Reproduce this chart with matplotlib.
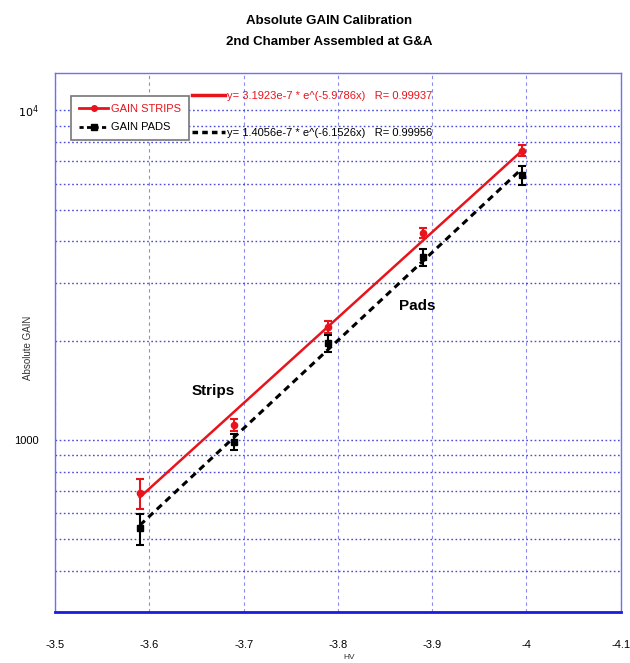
"""Absolute GAIN calibration plot, 2nd chamber assembled at G&A."""

import matplotlib
matplotlib.use("Agg")

import matplotlib.pyplot as plt
from matplotlib.lines import Line2D
import numpy as np

# HV setting (kV) and measured gain
hv = [-3.59, -3.69, -3.79, -3.89, -3.995]
gain_strips = [688, 1111, 2200, 4236, 7550]
err_strips = [70, 45, 90, 150, 300]
gain_pads = [538, 986, 1966, 3577, 6368]
err_pads = [58, 55, 120, 215, 410]

# exponential trendline coefficients shown on the chart: y = a * e^(b x)
fit_strips = (3.1923e-7, -5.9786, 0.99937)
fit_pads = (1.4056e-7, -6.1526, 0.99956)

x_ticks = [-3.5, -3.6, -3.7, -3.8, -3.9, -4.0, -4.1]
x_ticklabels = ["-3.5", "-3.6", "-3.7", "-3.8", "-3.9", "-4", "-4.1"]
y_ticks = [1000, 10000]
y_ticklabels = ["1000", "$10^4$"]

RED = "#e8141c"
GRID = "#2b2bd6"

plt.rcParams["font.family"] = ["Liberation Sans Narrow", "Liberation Sans", "DejaVu Sans"]

fig = plt.figure(figsize=(6.3, 6.63), dpi=100)
ax = fig.add_axes([0.0873, 0.077, 0.898, 0.813])

ax.set_yscale("log")
ax.set_xlim(-3.5, -4.1)
ax.set_ylim(300, 13000)

# trendlines (straight on log axis, so the end points are enough)
x_fit = np.array([hv[0], hv[-1]])
ax.plot(x_fit, fit_strips[0] * np.exp(fit_strips[1] * x_fit), color=RED, lw=1.8, zorder=3)
ax.plot(x_fit, fit_pads[0] * np.exp(fit_pads[1] * x_fit), color="black", lw=2.2,
        ls=(0, (2.2, 1.6)), zorder=3)

ax.errorbar(hv, gain_strips, yerr=err_strips, fmt="o", color=RED, ms=4.5,
            capsize=3, elinewidth=1.5, capthick=1.5, zorder=4)
ax.errorbar(hv, gain_pads, yerr=err_pads, fmt="s", color="black", ms=4.5,
            capsize=3, elinewidth=1.5, capthick=1.5, zorder=4)

# grid
ax.set_yticks(y_ticks)
ax.set_yticklabels(y_ticklabels)
ax.grid(True, which="both", axis="y", color=GRID, ls=(0, (1.2, 1.8)), lw=1.0, alpha=0.85)
ax.grid(True, which="major", axis="x", color="#8a8aec", ls=(0, (3, 3)), lw=0.8)
ax.set_xticks(x_ticks)
ax.set_xticklabels(x_ticklabels)
ax.tick_params(axis="both", which="both", length=0, labelsize=8, pad=12)
ax.tick_params(axis="y", which="minor", labelleft=False)
ax.tick_params(axis="x", pad=20)
for side in ["left", "right", "top"]:
    ax.spines[side].set_color("#6f6ff0")
    ax.spines[side].set_linewidth(1.0)
ax.spines["bottom"].set_color("#1a1ae0")
ax.spines["bottom"].set_linewidth(2.0)

ax.set_ylabel("Absolute GAIN", fontsize=7, color="#333333")
ax.yaxis.set_label_coords(-0.039, 0.49)
ax.set_xlabel("HV", fontsize=6, color="#333333")
ax.xaxis.set_label_coords(0.52, -0.078)

# legend
handles = [
    Line2D([], [], color=RED, lw=2, marker="o", ms=4),
    Line2D([], [], color="black", lw=2, ls=(0, (1.5, 1.2)), marker="s", ms=4),
]
leg = ax.legend(handles, ["GAIN STRIPS", "GAIN PADS"], loc="upper left",
                bbox_to_anchor=(0.019, 0.968), fontsize=8, fancybox=False,
                edgecolor="#777777", framealpha=1, handlelength=2.6,
                handletextpad=0.3, borderpad=0.7, labelspacing=0.8)
leg.get_frame().set_linewidth(1.2)
leg.get_texts()[0].set_color(RED)

# trendline equations
eq_handles = [
    Line2D([], [], color=RED, lw=2.5),
    Line2D([], [], color="black", lw=2.5, ls=(0, (1.6, 1.2))),
]
eq_labels = [
    "y= %.5ge-7 * e^(%.5gx)   R= %.5f" % (fit_strips[0] * 1e7, fit_strips[1], fit_strips[2]),
    "y= %.5ge-7 * e^(%.5gx)   R= %.5f" % (fit_pads[0] * 1e7, fit_pads[1], fit_pads[2]),
]
eq = ax.legend(eq_handles, eq_labels, loc="upper left", bbox_to_anchor=(0.225, 0.985),
               fontsize=8, frameon=False, handlelength=2.9, handletextpad=0.2,
               labelspacing=2.4)
eq.get_texts()[0].set_color(RED)
ax.add_artist(leg)

ax.text(-3.6676, 1403, "Strips", fontsize=11, fontweight="bold", ha="center", va="center")
ax.text(-3.884, 2552, "Pads", fontsize=11, fontweight="bold", ha="center", va="center")

fig.text(0.522, 0.969, "Absolute GAIN Calibration", ha="center", va="center",
         fontsize=9.5, fontweight="bold")
fig.text(0.522, 0.936, "2nd Chamber Assembled at G&A", ha="center", va="center",
         fontsize=9.5, fontweight="bold")

fig.savefig("out.png", dpi=100)
